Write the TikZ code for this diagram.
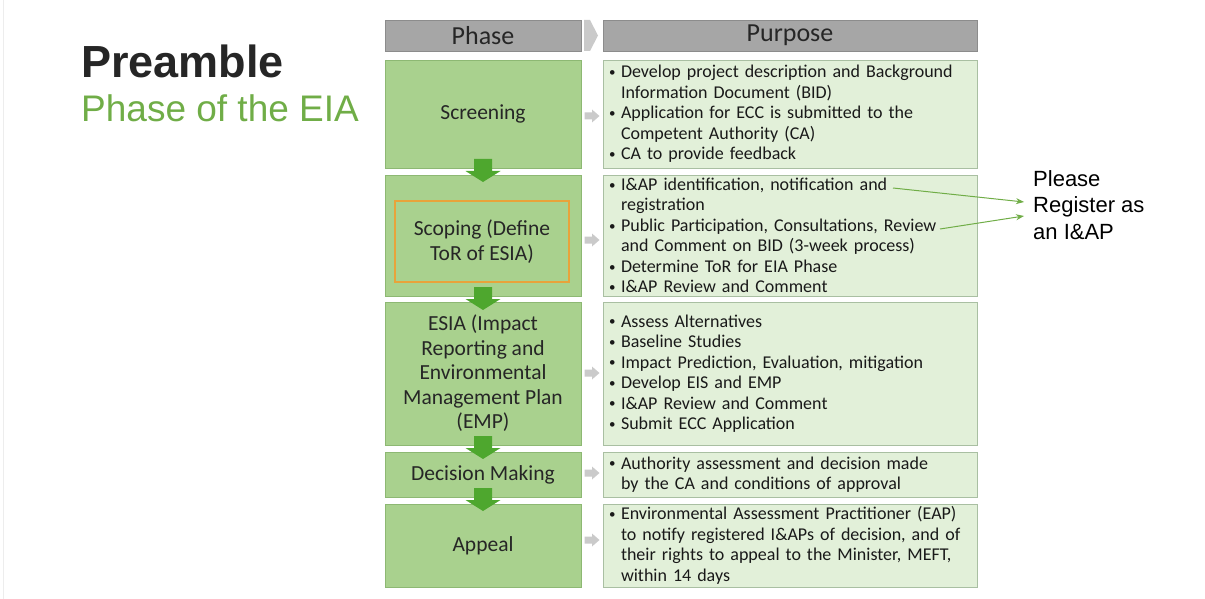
\documentclass[tikz,border=0pt]{standalone}
\usepackage{fontspec}
\setmainfont{Carlito}
\newfontfamily\arialfont{Liberation Sans}
\usetikzlibrary{arrows.meta}

\definecolor{phasefill}{HTML}{A9D18E}
\definecolor{phaseline}{HTML}{8DB873}
\definecolor{purposefill}{HTML}{E2F0D9}
\definecolor{purposeline}{HTML}{A9BFA2}
\definecolor{headfill}{HTML}{A6A6A6}
\definecolor{headline}{HTML}{8C8C8C}
\definecolor{flowgreen}{HTML}{4EA72E}
\definecolor{titlegreen}{HTML}{70AD47}
\definecolor{scopeorange}{HTML}{E8A33A}
\definecolor{hintgray}{HTML}{CACACA}

\newcommand\bul{\makebox[14pt][l]{\hspace*{2pt}\raisebox{0.15ex}{\fontsize{13}{13}\selectfont\textbullet}}}
\newcommand\ind{\hspace*{14pt}}

\tikzset{
    headbox/.style={draw=headline, fill=headfill, minimum height=31pt, inner sep=0pt,
        font=\fontsize{26}{28}\selectfont, text=black!85},
    phasebox/.style={draw=phaseline, fill=phasefill, minimum width=196pt, inner sep=0pt,
        align=center, font=\fontsize{21.5}{24.5}\selectfont, text=black!85},
    purposebox/.style={draw=purposeline, fill=purposefill, minimum width=374pt,
        text width=366pt, inner xsep=4pt, inner ysep=0pt, align=left,
        font=\fontsize{18}{20.5}\selectfont, text=black!90},
    flowdown/.pic={\fill[flowgreen] (-9, -11.5) to (9, -11.5) to (9, 0.5) to (17.5, 0.5)
        to (0, 11.5) to (-17.5, 0.5) to (-9, 0.5) to cycle;},
    hintright/.pic={\fill[hintgray] (-7.5, -3.5) to (0, -3.5) to (0, -6.5) to (7.5, 0)
        to (0, 6.5) to (0, 3.5) to (-7.5, 3.5) to cycle;},
    notearrow/.style={draw=titlegreen, line width=1pt, -{Stealth[length=8pt,width=6pt]}}
}

\begin{document}
\begin{tikzpicture}[x=1pt, y=-1pt]
    \useasboundingbox (0, 0) rectangle (1205, 599);
    \draw[black!7] (3, 0) to (3, 599);

    \node[anchor=base west, inner sep=0pt, text=black!85,
        font=\arialfont\bfseries\fontsize{45}{50}\selectfont] (title) at (81, 78) {Preamble};
    \node[anchor=base west, inner sep=0pt, text=titlegreen,
        font=\arialfont\fontsize{37}{42}\selectfont] (subtitle) at (81, 122) {Phase of the EIA};

    \node[headbox, minimum width=196pt] (phasehead) at (483, 35.5) {Phase};
    \fill[hintgray] (584, 20) to (590, 20) to (598, 35.5) to (590, 51) to (584, 51) to cycle;
    \node[headbox, minimum width=374pt] (purposehead) at (790, 35.5) {Purpose};

    \node[phasebox, minimum height=108pt] (screening) at (483, 114) {Screening};
    \node[phasebox, minimum height=121pt] (scoping) at (483, 235.5) {};
    \node[draw=scopeorange, line width=2pt, minimum width=174pt, minimum height=81pt,
        align=center, font=\fontsize{21.5}{24.5}\selectfont, text=black!85]
        (scopeframe) at (482, 241.5) {Scoping (Define\\ToR of ESIA)};
    \node[phasebox, minimum height=143pt] (esia) at (483, 373.5)
        {ESIA (Impact\\Reporting and\\Environmental\\Management Plan\\(EMP)};
    \node[phasebox, minimum height=45pt] (decision) at (483, 474.5) {Decision Making};
    \node[phasebox, minimum height=83pt] (appeal) at (483, 545.5) {Appeal};

    \pic at (483, 170.5) {flowdown};
    \pic at (483, 298.5) {flowdown};
    \pic at (483, 447.5) {flowdown};
    \pic at (483, 499.5) {flowdown};

    \pic at (592, 116) {hintright};
    \pic at (592, 240) {hintright};
    \pic at (592, 373) {hintright};
    \pic at (592, 473) {hintright};
    \pic at (592, 540) {hintright};

    \node[purposebox, minimum height=108pt] (screeningtext) at (790, 114)
        {\bul Develop project description and Background\\
         \ind Information Document (BID)\\
         \bul Application for ECC is submitted to the\\
         \ind Competent Authority (CA)\\
         \bul CA to provide feedback};
    \node[purposebox, minimum height=121pt] (scopingtext) at (790, 235.5)
        {\bul I\&AP identification, notification and\\
         \ind registration\\
         \bul Public Participation, Consultations, Review\\
         \ind and Comment on BID (3-week process)\\
         \bul Determine ToR for EIA Phase\\
         \bul I\&AP Review and Comment};
    \node[purposebox, minimum height=143pt] (esiatext) at (790, 373.5)
        {\bul Assess Alternatives\\
         \bul Baseline Studies\\
         \bul Impact Prediction, Evaluation, mitigation\\
         \bul Develop EIS and EMP\\
         \bul I\&AP Review and Comment\\
         \bul Submit ECC Application};
    \node[purposebox, minimum height=45pt] (decisiontext) at (790, 474.5)
        {\bul Authority assessment and decision made\\
         \ind by the CA and conditions of approval};
    \node[purposebox, minimum height=83pt] (appealtext) at (790, 545.5)
        {\bul Environmental Assessment Practitioner (EAP)\\
         \ind to notify registered I\&APs of decision, and of\\
         \ind their rights to appeal to the Minister, MEFT,\\
         \ind within 14 days};

    \node[anchor=west, align=left, inner sep=0pt, text=black,
        font=\arialfont\fontsize{22}{26.5}\selectfont] (note) at (1033, 205)
        {Please\\Register as\\an I\&AP};
    \coordinate (fromid) at (893, 188);
    \coordinate (fromppc) at (940, 229);
    \coordinate (toid) at (1024, 202);
    \coordinate (toppc) at (1024, 216);
    \draw[notearrow] (fromid) to (toid);
    \draw[notearrow] (fromppc) to (toppc);
\end{tikzpicture}
\end{document}
